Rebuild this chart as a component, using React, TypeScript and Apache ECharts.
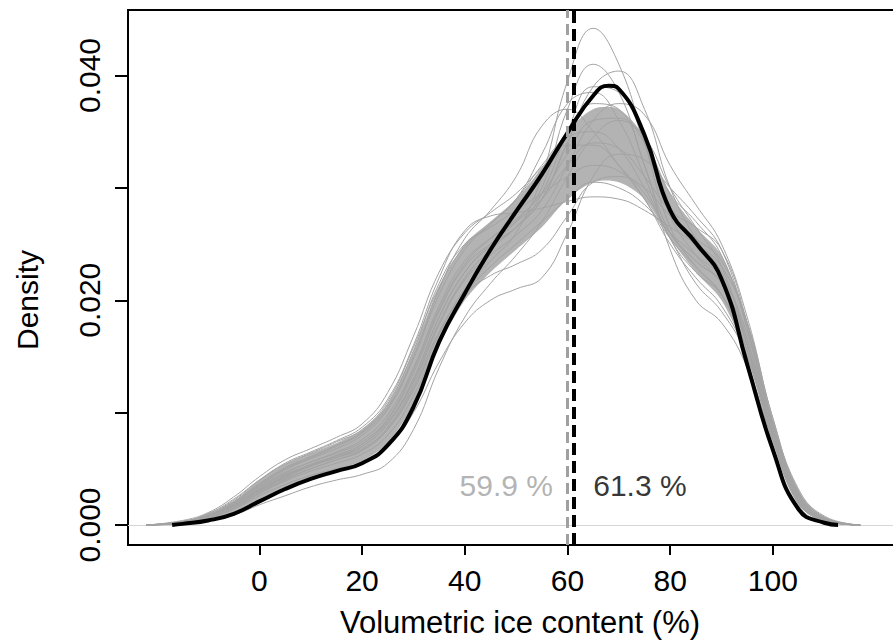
import { useEffect, useRef } from "react";
import * as echarts from "echarts";

// x positions (volumetric ice content, %) where the bootstrap curves were read
const xGrid = [-22, -15, -10, -5, 0, 5, 10, 15, 20, 25, 30, 35, 40, 45, 50, 55, 60, 65, 70, 75, 80, 85, 90, 95, 100, 105, 110, 117];

// bootstrap density curves (grey)
const boot01 = [0, 0.0002, 0.0006, 0.0015, 0.0028, 0.0040, 0.0050, 0.0058, 0.0066, 0.0085, 0.0120, 0.0170, 0.0210, 0.0235, 0.0260, 0.0310, 0.0395, 0.0442, 0.0410, 0.0340, 0.0265, 0.0230, 0.0205, 0.0150, 0.0075, 0.0020, 0.0004, 0];
const boot02 = [0, 0.0003, 0.0008, 0.0018, 0.0032, 0.0045, 0.0053, 0.0062, 0.0072, 0.0092, 0.0130, 0.0185, 0.0225, 0.0250, 0.0270, 0.0300, 0.0370, 0.0410, 0.0385, 0.0320, 0.0260, 0.0235, 0.0215, 0.0160, 0.0080, 0.0022, 0.0005, 0];
const boot03 = [0, 0.0002, 0.0007, 0.0017, 0.0030, 0.0042, 0.0052, 0.0060, 0.0070, 0.0090, 0.0128, 0.0180, 0.0220, 0.0245, 0.0265, 0.0290, 0.0340, 0.0390, 0.0404, 0.0370, 0.0300, 0.0255, 0.0225, 0.0165, 0.0085, 0.0025, 0.0006, 0];
const boot04 = [0, 0.0003, 0.0009, 0.0020, 0.0036, 0.0050, 0.0060, 0.0070, 0.0082, 0.0105, 0.0150, 0.0210, 0.0255, 0.0280, 0.0310, 0.0355, 0.0370, 0.0350, 0.0320, 0.0290, 0.0255, 0.0230, 0.0205, 0.0155, 0.0080, 0.0024, 0.0005, 0];
const boot05 = [0, 0.0003, 0.0010, 0.0022, 0.0040, 0.0055, 0.0065, 0.0075, 0.0087, 0.0112, 0.0160, 0.0220, 0.0262, 0.0275, 0.0278, 0.0282, 0.0288, 0.0292, 0.0290, 0.0280, 0.0265, 0.0250, 0.0230, 0.0180, 0.0095, 0.0030, 0.0007, 0];
const boot06 = [0, 0.0001, 0.0004, 0.0009, 0.0018, 0.0026, 0.0034, 0.0040, 0.0045, 0.0055, 0.0085, 0.0140, 0.0185, 0.0215, 0.0240, 0.0270, 0.0310, 0.0345, 0.0360, 0.0345, 0.0300, 0.0265, 0.0230, 0.0160, 0.0078, 0.0018, 0.0003, 0];
const boot07 = [0, 0.0002, 0.0006, 0.0014, 0.0026, 0.0036, 0.0044, 0.0050, 0.0056, 0.0070, 0.0100, 0.0145, 0.0180, 0.0200, 0.0210, 0.0220, 0.0260, 0.0310, 0.0330, 0.0325, 0.0300, 0.0275, 0.0245, 0.0175, 0.0088, 0.0026, 0.0006, 0];
const boot08 = [0, 0.0003, 0.0008, 0.0019, 0.0034, 0.0047, 0.0056, 0.0065, 0.0076, 0.0098, 0.0140, 0.0195, 0.0235, 0.0255, 0.0270, 0.0290, 0.0320, 0.0340, 0.0335, 0.0310, 0.0280, 0.0265, 0.0245, 0.0180, 0.0090, 0.0028, 0.0006, 0];
const boot09 = [0, 0.0002, 0.0008, 0.0018, 0.0031, 0.0044, 0.0054, 0.0062, 0.0072, 0.0094, 0.0135, 0.0190, 0.0230, 0.0250, 0.0265, 0.0290, 0.0340, 0.0375, 0.0370, 0.0320, 0.0245, 0.0200, 0.0180, 0.0140, 0.0075, 0.0020, 0.0004, 0];
const boot10 = [0, 0.0003, 0.0009, 0.0021, 0.0037, 0.0051, 0.0061, 0.0071, 0.0083, 0.0108, 0.0155, 0.0215, 0.0250, 0.0265, 0.0280, 0.0295, 0.0310, 0.0320, 0.0315, 0.0295, 0.0255, 0.0215, 0.0190, 0.0150, 0.0080, 0.0022, 0.0005, 0];
const boot11 = [0, 0.0002, 0.0007, 0.0016, 0.0029, 0.0041, 0.0050, 0.0058, 0.0067, 0.0087, 0.0125, 0.0178, 0.0218, 0.0240, 0.0258, 0.0280, 0.0320, 0.0360, 0.0375, 0.0365, 0.0320, 0.0285, 0.0250, 0.0185, 0.0095, 0.0032, 0.0008, 0];
const boot12 = [0, 0.0003, 0.0010, 0.0023, 0.0040, 0.0054, 0.0064, 0.0074, 0.0085, 0.0110, 0.0158, 0.0212, 0.0248, 0.0268, 0.0290, 0.0320, 0.0345, 0.0350, 0.0335, 0.0300, 0.0260, 0.0235, 0.0215, 0.0160, 0.0082, 0.0024, 0.0005, 0];
const boot13 = [0, 0.0003, 0.0009, 0.0020, 0.0035, 0.0049, 0.0059, 0.0068, 0.0080, 0.0103, 0.0148, 0.0205, 0.0245, 0.0268, 0.0290, 0.0330, 0.0375, 0.0385, 0.0360, 0.0310, 0.0255, 0.0225, 0.0205, 0.0155, 0.0078, 0.0021, 0.0004, 0];
const boot14 = [0, 0.0002, 0.0006, 0.0015, 0.0028, 0.0039, 0.0048, 0.0055, 0.0063, 0.0080, 0.0115, 0.0165, 0.0205, 0.0230, 0.0250, 0.0270, 0.0290, 0.0305, 0.0300, 0.0285, 0.0260, 0.0240, 0.0220, 0.0170, 0.0088, 0.0027, 0.0006, 0];
const boot15 = [0, 0.0002, 0.0008, 0.0018, 0.0033, 0.0046, 0.0056, 0.0064, 0.0074, 0.0095, 0.0138, 0.0192, 0.0232, 0.0255, 0.0272, 0.0295, 0.0330, 0.0360, 0.0362, 0.0340, 0.0295, 0.0270, 0.0240, 0.0175, 0.0090, 0.0028, 0.0006, 0];
const boot16 = [0, 0.0004, 0.0011, 0.0025, 0.0043, 0.0058, 0.0068, 0.0078, 0.0090, 0.0118, 0.0168, 0.0225, 0.0260, 0.0278, 0.0295, 0.0318, 0.0338, 0.0338, 0.0320, 0.0290, 0.0250, 0.0220, 0.0195, 0.0150, 0.0078, 0.0022, 0.0004, 0];
const boot17 = [0, 0.0002, 0.0007, 0.0017, 0.0031, 0.0043, 0.0053, 0.0061, 0.0070, 0.0090, 0.0130, 0.0185, 0.0225, 0.0248, 0.0265, 0.0295, 0.0350, 0.0390, 0.0385, 0.0340, 0.0275, 0.0240, 0.0215, 0.0165, 0.0085, 0.0025, 0.0005, 0];
const boot18 = [0, 0.0002, 0.0007, 0.0017, 0.0031, 0.0043, 0.0053, 0.0060, 0.0068, 0.0086, 0.0122, 0.0172, 0.0205, 0.0222, 0.0232, 0.0245, 0.0275, 0.0305, 0.0310, 0.0300, 0.0275, 0.0255, 0.0235, 0.0180, 0.0092, 0.0030, 0.0007, 0];
const bootCurves = [boot01, boot02, boot03, boot04, boot05, boot06, boot07, boot08, boot09, boot10, boot11, boot12, boot13, boot14, boot15, boot16, boot17, boot18];

// dense core of the bootstrap bundle (lower / upper edge)
const bandLower = [0, 0.0001, 0.0004, 0.0011, 0.0022, 0.0032, 0.0041, 0.0049, 0.0057, 0.0073, 0.0108, 0.0160, 0.0200, 0.0225, 0.0245, 0.0265, 0.0290, 0.0305, 0.0305, 0.0290, 0.0255, 0.0225, 0.0200, 0.0150, 0.0075, 0.0018, 0.0003, 0];
const bandUpper = [0, 0.0003, 0.0009, 0.0021, 0.0040, 0.0054, 0.0064, 0.0073, 0.0085, 0.0108, 0.0155, 0.0212, 0.0250, 0.0270, 0.0290, 0.0318, 0.0350, 0.0370, 0.0370, 0.0345, 0.0295, 0.0265, 0.0240, 0.0180, 0.0092, 0.0030, 0.0007, 0];

// density of the observed data (black)
const observedX = [-17, -15, -10, -5, 0, 5, 10, 15, 20, 25, 30, 35, 40, 45, 50, 55, 60, 65, 68, 70, 75, 80, 85, 90, 95, 100, 105, 110, 112.7];
const observedDensity = [0, 0.0001, 0.0004, 0.0010, 0.0021, 0.0032, 0.0041, 0.0048, 0.0055, 0.0071, 0.0105, 0.0163, 0.0206, 0.0245, 0.0279, 0.0312, 0.0349, 0.0382, 0.0391, 0.0388, 0.0347, 0.0280, 0.0251, 0.0219, 0.0143, 0.0067, 0.0014, 0.0002, 0];

// medians
const medianBoot = 59.9;
const medianObserved = 61.3;
const medianLabelY = 0.0035;

// ticks
const xTicks = [0, 20, 40, 60, 80, 100];
const yTicks = [0, 0.01, 0.02, 0.03, 0.04];
const yTickLabels = [0, 0.02, 0.04];

const FONT = "Liberation Sans";

export default function App() {
  const ref = useRef<HTMLDivElement>(null);
  useEffect(() => {
    if (!ref.current) return;
    const chart = echarts.init(ref.current, null, { renderer: "svg" });
    const series: any[] = [];
    series.push({
      type: "custom",
      silent: true,
      z: 1,
      data: [[xGrid[0], 0]],
      renderItem: (_params: any, api: any) => {
        const upper = xGrid.map((x, i) => api.coord([x, bandUpper[i]]));
        const lower: number[][] = [];
        for (let i = xGrid.length - 2; i >= 1; i--) lower.push(api.coord([xGrid[i], bandLower[i]]));
        return {
          type: "polygon",
          shape: { points: upper.concat(lower), smooth: 0.3 },
          style: { fill: "#b3b3b3", stroke: "none" },
        };
      },
      markLine: {
        silent: true,
        symbol: ["none", "none"],
        label: { show: false },
        z: 0,
        data: [{ yAxis: 0, lineStyle: { color: "#d6d6d6", width: 1, type: "solid" } }],
      },
    });
    bootCurves.forEach((c) => {
      series.push({
        type: "line",
        data: xGrid.map((x, i) => [x, c[i]]),
        showSymbol: false,
        smooth: 0.45,
        silent: true,
        lineStyle: { color: "#a3a3a3", width: 1 },
        z: 2,
      });
    });
    series.push({
      type: "line",
      data: observedX.map((x, i) => [x, observedDensity[i]]),
      showSymbol: false,
      smooth: 0.5,
      silent: true,
      lineStyle: { color: "#000", width: 4 },
      z: 3,
      markLine: {
        silent: true,
        symbol: ["none", "none"],
        label: { show: false },
        z: 5,
        data: [
          { xAxis: medianBoot, lineStyle: { color: "#a0a0a0", width: 3, type: [11, 6] } },
          { xAxis: medianObserved, lineStyle: { color: "#000", width: 4, type: [12, 6] } },
        ],
      },
    });
    series.push({
      type: "scatter",
      symbolSize: 0.1,
      itemStyle: { color: "transparent" },
      silent: true,
      z: 6,
      label: { show: true, fontSize: 30, fontFamily: FONT },
      data: [
        { value: [medianBoot, medianLabelY], label: { position: "left", distance: 14, color: "#a0a0a0", formatter: `${medianBoot} %` } },
        { value: [medianObserved, medianLabelY], label: { position: "right", distance: 19, color: "#000", formatter: `${medianObserved} %` } },
      ],
    });

    chart.setOption({
      animation: false,
      backgroundColor: "#fff",
      grid: {
        left: 128,
        top: 10,
        width: 784,
        height: 535,
        show: true,
        borderColor: "#000",
        borderWidth: 2,
        backgroundColor: "transparent",
        containLabel: false,
        outerBoundsMode: "none",
      },
      xAxis: {
        type: "value",
        min: -25.6,
        max: 127.1,
        splitLine: { show: false },
        axisLine: { show: false, onZero: false },
        axisTick: { show: true, customValues: xTicks, length: 10, lineStyle: { color: "#000", width: 2 } },
        axisLabel: { customValues: xTicks, color: "#000", fontSize: 30, fontFamily: FONT, margin: 20 },
        name: "Volumetric ice content (%)",
        nameLocation: "middle",
        nameGap: 62,
        nameTextStyle: { color: "#000", fontSize: 31, fontFamily: FONT },
      },
      yAxis: {
        type: "value",
        min: -0.00178,
        max: 0.04583,
        splitLine: { show: false },
        axisLine: { show: false, onZero: false },
        axisTick: { show: true, customValues: yTicks, length: 13, lineStyle: { color: "#000", width: 2 } },
        axisLabel: {
          customValues: yTickLabels,
          rotate: 90,
          color: "#000",
          fontSize: 30,
          fontFamily: FONT,
          margin: 24,
          formatter: (v: number) => v.toFixed(3),
        },
      },
      graphic: [
        {
          type: "text",
          x: 27,
          y: 300,
          rotation: Math.PI / 2,
          style: {
            text: "Density",
            fontSize: 30,
            fontFamily: FONT,
            fill: "#000",
            align: "center",
            verticalAlign: "middle",
            textAlign: "center",
            textVerticalAlign: "middle",
          },
        },
      ],
      series,
    });
    return () => chart.dispose();
  }, []);
  return (
    <div style={{ position: "fixed", left: 0, top: 0, width: 893, height: 642, overflow: "hidden", background: "#fff" }}>
      <div ref={ref} style={{ width: 930, height: 642 }} />
    </div>
  );
}
